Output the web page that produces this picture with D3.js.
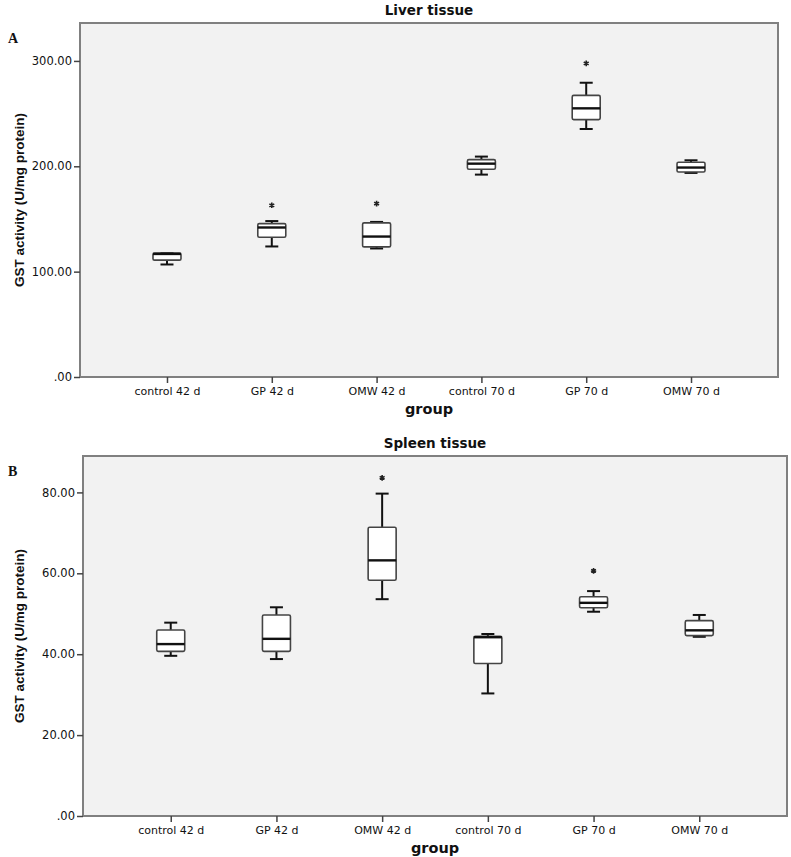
<!DOCTYPE html>
<html>
<head>
<meta charset="utf-8">
<script src="https://cdn.jsdelivr.net/npm/d3@7"></script>
<style>
  html, body { margin: 0; padding: 0; background: #ffffff; }
  svg { display: block; }
</style>
</head>
<body>
<svg id="chart" width="791" height="857"></svg>
<script>
// ---------- data ----------
const categories = ["control 42 d", "GP 42 d", "OMW 42 d", "control 70 d", "GP 70 d", "OMW 70 d"];

const liverMin    = [106.8, 123.9, 122.0, 192.1, 235.4, 193.7];
const liverQ1     = [110.9, 132.7, 123.5, 197.2, 244.3, 194.6];
const liverMedian = [116.8, 141.9, 133.3, 202.5, 255.0, 198.8];
const liverQ3     = [117.6, 145.6, 146.3, 206.3, 267.3, 203.8];
const liverMax    = [117.6, 148.0, 147.2, 209.2, 279.3, 205.7];
const liverOutliers = [null, 163.0, 164.6, null, 297.6, null];
const liverTicks  = [0, 100, 200, 300];

const spleenMin    = [39.6, 38.8, 53.6, 30.3, 50.5, 44.3];
const spleenQ1     = [40.7, 40.7, 58.3, 37.7, 51.5, 44.6];
const spleenMedian = [42.5, 43.8, 63.2, 44.2, 52.7, 45.9];
const spleenQ3     = [46.0, 49.7, 71.4, 44.4, 54.2, 48.3];
const spleenMax    = [47.8, 51.6, 79.7, 45.0, 55.6, 49.7];
const spleenOutliers = [null, null, 83.6, null, 60.6, null];
const spleenTicks  = [0, 20, 40, 60, 80];

const yLabel = "GST activity (U/mg protein)";
const xLabel = "group";

// ---------- drawing ----------
const svg = d3.select("#chart");
const fmt = v => v === 0 ? ".00" : v.toFixed(2);
const tickFont = "DejaVu Sans, Verdana, sans-serif";

function panel(opt) {
  const { left, right, top, bottom, yMax, ticks, title, letter,
          mins, q1s, meds, q3s, maxs, outs } = opt;
  const g = svg.append("g");

  const x = d3.scalePoint().domain(categories).range([left, right]).padding(0.83);
  const y = d3.scaleLinear().domain([0, yMax]).range([bottom, top]);

  // frame background
  g.append("rect")
    .attr("x", left).attr("y", top)
    .attr("width", right - left).attr("height", bottom - top)
    .attr("fill", "#f2f2f2")
    .attr("stroke", "#808080").attr("stroke-width", 2);

  // y axis
  const yAxis = d3.axisLeft(y).tickValues(ticks).tickFormat(fmt).tickSize(6).tickPadding(2);
  const ya = g.append("g").attr("transform", `translate(${left},0)`).call(yAxis);
  ya.select(".domain").remove();
  ya.selectAll(".tick line").attr("stroke", "#444").attr("stroke-width", 1.5);
  ya.selectAll(".tick text")
    .attr("font-family", tickFont)
    .attr("font-size", 11.5).attr("fill", "#111");

  // x axis
  const xAxis = d3.axisBottom(x).tickSize(6).tickPadding(4);
  const xa = g.append("g").attr("transform", `translate(0,${bottom})`).call(xAxis);
  xa.select(".domain").remove();
  xa.selectAll(".tick line").attr("stroke", "#444").attr("stroke-width", 1.5);
  xa.selectAll(".tick text")
    .attr("font-family", tickFont)
    .attr("font-size", 11).attr("fill", "#111");

  // boxes
  const bw = 28, cw = 13;
  categories.forEach((c, i) => {
    const cx = x(c);
    const bg = g.append("g");
    bg.append("line").attr("x1", cx).attr("x2", cx)
      .attr("y1", y(q3s[i])).attr("y2", y(maxs[i]))
      .attr("stroke", "#111").attr("stroke-width", 2);
    bg.append("line").attr("x1", cx).attr("x2", cx)
      .attr("y1", y(q1s[i])).attr("y2", y(mins[i]))
      .attr("stroke", "#111").attr("stroke-width", 2);
    bg.append("line").attr("x1", cx - cw / 2).attr("x2", cx + cw / 2)
      .attr("y1", y(maxs[i])).attr("y2", y(maxs[i]))
      .attr("stroke", "#111").attr("stroke-width", 2);
    bg.append("line").attr("x1", cx - cw / 2).attr("x2", cx + cw / 2)
      .attr("y1", y(mins[i])).attr("y2", y(mins[i]))
      .attr("stroke", "#111").attr("stroke-width", 2);
    bg.append("rect")
      .attr("x", cx - bw / 2).attr("y", y(q3s[i]))
      .attr("width", bw).attr("height", Math.max(1, y(q1s[i]) - y(q3s[i])))
      .attr("rx", 1.5)
      .attr("fill", "#ffffff").attr("stroke", "#444").attr("stroke-width", 1.6);
    bg.append("line").attr("x1", cx - bw / 2).attr("x2", cx + bw / 2)
      .attr("y1", y(meds[i])).attr("y2", y(meds[i]))
      .attr("stroke", "#111").attr("stroke-width", 2.4);
    if (outs[i] != null) {
      bg.append("path")
        .attr("d", d3.symbol(d3.symbolAsterisk, 22)())
        .attr("transform", `translate(${cx},${y(outs[i])})`)
        .attr("fill", "none").attr("stroke", "#222").attr("stroke-width", 1.6);
    }
  });

  const midX = (left + right) / 2;
  g.append("text").attr("x", midX).attr("y", top - 8)
    .attr("text-anchor", "middle")
    .attr("font-family", tickFont)
    .attr("font-weight", "bold").attr("font-size", 13.5).attr("fill", "#111")
    .text(title);
  g.append("text").attr("x", midX).attr("y", bottom + 37)
    .attr("text-anchor", "middle")
    .attr("font-family", tickFont)
    .attr("font-weight", "bold").attr("font-size", 14.5).attr("fill", "#111")
    .text(xLabel);
  const my = (top + bottom) / 2;
  g.append("text")
    .attr("transform", `translate(24,${my}) rotate(-90)`)
    .attr("text-anchor", "middle")
    .attr("font-family", "Liberation Sans Narrow, Liberation Sans, Arial, sans-serif")
    .attr("font-weight", "bold").attr("font-size", 13.5).attr("fill", "#111")
    .text(yLabel);
  g.append("text").attr("x", 8).attr("y", top + 20)
    .attr("font-family", "Liberation Serif, serif")
    .attr("font-weight", "bold").attr("font-size", 14).attr("fill", "#111")
    .text(letter);
}

panel({
  left: 80, right: 778, top: 23, bottom: 377, yMax: 336, ticks: liverTicks,
  title: "Liver tissue", letter: "A",
  mins: liverMin, q1s: liverQ1, meds: liverMedian, q3s: liverQ3, maxs: liverMax, outs: liverOutliers
});

panel({
  left: 83, right: 787, top: 456, bottom: 816, yMax: 89, ticks: spleenTicks,
  title: "Spleen tissue", letter: "B",
  mins: spleenMin, q1s: spleenQ1, meds: spleenMedian, q3s: spleenQ3, maxs: spleenMax, outs: spleenOutliers
});
</script>
</body>
</html>
